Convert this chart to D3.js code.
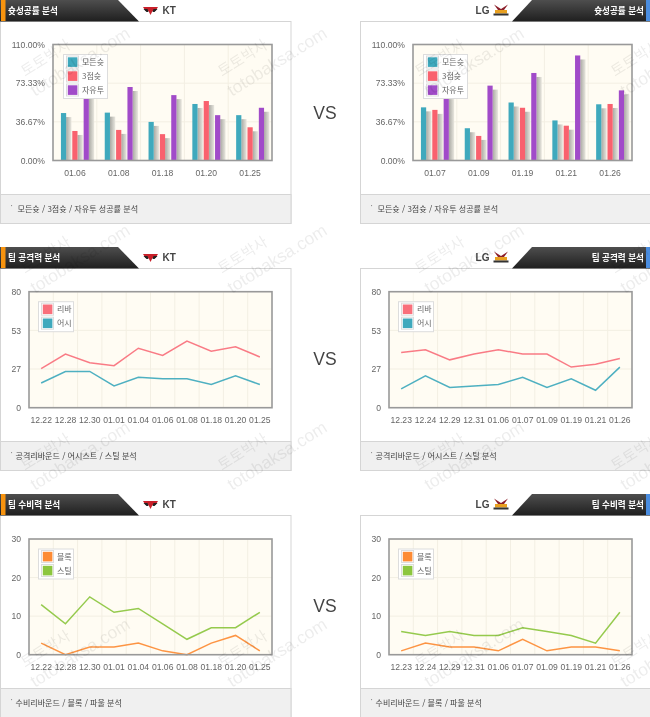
<!DOCTYPE html>
<html lang="ko"><head><meta charset="utf-8">
<script src="https://cdnjs.cloudflare.com/ajax/libs/d3/7.8.5/d3.min.js"></script>
<style>
html,body{margin:0;padding:0;background:#fff;overflow:hidden}
svg{display:block;filter:blur(.4px)}
text{font-family:"Noto Sans CJK KR","Liberation Sans",sans-serif}
.num text,.num{font-family:"Liberation Sans",Arial,sans-serif}
</style></head><body>
<svg id="c" width="650" height="717"></svg>
<script>
// ---- data ----
const shotLabels = ["모든슛","3점슛","자유투"];
const shotTicks = [0,36.67,73.33,110];
const shotTickLabels = ["0.00%","36.67%","73.33%","110.00%"];
const ktShotDates = ["01.06","01.08","01.18","01.20","01.25"];
const ktFieldGoal = [45,45.4,36.6,53.6,43];
const ktThree = [28,29,25,56.4,31.5];
const ktFree = [64,69.7,62,43,50];
const lgShotDates = ["01.07","01.09","01.19","01.21","01.26"];
const lgFieldGoal = [50.4,30.6,55,38,53.3];
const lgThree = [48,23.3,50,33,53.6];
const lgFree = [62,71,83,99.6,66.5];

const attackTicks = [0,26.67,53.33,80];
const attackTickLabels = ["0","27","53","80"];
const defenseTicks = [0,10,20,30];
const defenseTickLabels = ["0","10","20","30"];
const ktDates = ["12.22","12.28","12.30","01.01","01.04","01.06","01.08","01.18","01.20","01.25"];
const lgDates = ["12.23","12.24","12.29","12.31","01.06","01.07","01.09","01.19","01.21","01.26"];
const ktRebounds = [27,37,31,29,41,36,46,39,42,35];
const ktAssists = [17,25,25,15,21,20,20,16,22,16];
const lgRebounds = [38,40,33,37,40,37,37,28,30,34];
const lgAssists = [13,22,14,15,16,21,14,20,12,28];
const ktBlocks = [3,0,2,2,3,1,0,3,5,1];
const ktSteals = [13,8,15,11,12,8,4,7,7,11];
const lgBlocks = [1,3,2,2,1,4,1,2,2,1];
const lgSteals = [6,5,6,5,5,7,6,5,3,11];

const titles = ["슛성공률 분석","팀 공격력 분석","팀 수비력 분석"];
const footers = ["모든슛 / 3점슛 / 자유투 성공률 분석","공격리바운드 / 어시스트 / 스틸 분석","수비리바운드 / 블록 / 파울 분석"];

// ---- colours ----
const TEAL="#3fa9bd",RED="#f9616e",PURPLE="#a14bc9",ORANGE="#fd8b34",GREEN="#82c91e";

const svg=d3.select("#c");
const defs=svg.append("defs");
const hg=defs.append("linearGradient").attr("id","hdr").attr("x1",0).attr("y1",0).attr("x2",0).attr("y2",1);
hg.append("stop").attr("offset",0).attr("stop-color","#4e4e4e");
hg.append("stop").attr("offset",1).attr("stop-color","#1f1f1f");
const sg=defs.append("linearGradient").attr("id","shadow").attr("x1",0).attr("y1",0).attr("x2",1).attr("y2",0);
sg.append("stop").attr("offset",0).attr("stop-color","#a9a9a3");
sg.append("stop").attr("offset",1).attr("stop-color","#e9e7df");

function panelFrame(side,top,bottom,footTop,titleText,footText){
  const left=side==="L";
  const x0=left?0.5:360.5, x1=left?291:650.5;
  const g=svg.append("g");
  g.append("rect").attr("x",x0).attr("y",top+.5).attr("width",x1-x0).attr("height",bottom-top)
    .attr("fill","#fff").attr("stroke","#d5d5d5");
  g.append("rect").attr("x",x0).attr("y",footTop+.5).attr("width",x1-x0).attr("height",bottom-footTop)
    .attr("fill","#f0f0f0").attr("stroke","#d5d5d5");
  g.append("text").attr("x",x0+10).attr("y",footTop+15).attr("font-size",8).attr("fill","#777").text("·");
  g.append("text").attr("x",x0+(titleText.startsWith("슛")?17:15)).attr("y",footTop+17.5).attr("font-size",8.05).attr("fill","#444").text(footText);
  const hTop=top-21;
  const pts=left?[[0,hTop],[118,hTop],[139,top+.5],[0,top+.5]]:[[532,hTop],[650,hTop],[650,top+.5],[512,top+.5]];
  g.append("polygon").attr("points",pts.join(" ")).attr("fill","url(#hdr)");
  g.append("rect").attr("x",left?1:646).attr("y",hTop).attr("width",left?4.5:4).attr("height",21)
    .attr("fill",left?"#f7930e":"#4a8de0");
  g.append("text").attr("x",left?8:644).attr("y",hTop+14).attr("text-anchor",left?"start":"end")
    .attr("font-size",8.6).attr("font-weight",700).attr("fill","#fff").text(titleText);
  const cy=hTop+10;
  if(left){
    const m=g.append("g").attr("transform",`translate(150.5,${cy})`);
    m.append("path").attr("d","M-7.5,-3 L7.5,-3 L5,1 L2,1 L0,5 L-2,1 L-5,1Z").attr("fill","#c8202a");
    m.append("path").attr("d","M-7,-1 L-3,-1 L-2,2 L-4,2Z M7,-1 L3,-1 L2,2 L4,2Z").attr("fill","#222");
    g.append("text").attr("class","num").attr("x",162.5).attr("y",cy+3.8).attr("font-size",10).attr("font-weight",700).attr("fill","#444").style("font-family",'"Liberation Sans",Arial,sans-serif').text("KT");
  }else{
    const m=g.append("g").attr("transform",`translate(501,${cy})`);
    m.append("path").attr("d","M-7,-5.5 L0,-1 L7,-5.5 L3,0 L-3,0Z").attr("fill","#8c1f2a");
    m.append("rect").attr("x",-6).attr("y",0).attr("width",12).attr("height",3.5).attr("fill","#e8a020");
    m.append("rect").attr("x",-7.5).attr("y",3.5).attr("width",15).attr("height",2).attr("fill","#333");
    g.append("text").attr("class","num").attr("x",489.5).attr("y",cy+3.8).attr("text-anchor","end").attr("font-size",10).attr("font-weight",700).attr("fill","#444").style("font-family",'"Liberation Sans",Arial,sans-serif').text("LG");
  }
}

function plotBase(b,domainMax,ticks,tickLabels,dates){
  const x=d3.scaleBand().domain(dates).range([b.x0,b.x1]);
  const y=d3.scaleLinear().domain([0,domainMax]).range([b.y1,b.y0]);
  const g=svg.append("g");
  g.append("rect").attr("x",b.x0).attr("y",b.y0).attr("width",b.x1-b.x0).attr("height",b.y1-b.y0).attr("fill","#fffcf3");
  g.append("g").selectAll("line").data(ticks).join("line")
    .attr("x1",b.x0).attr("x2",b.x1).attr("y1",d=>y(d)).attr("y2",d=>y(d)).attr("stroke","#f3efe3");
  g.append("g").selectAll("line").data(dates.slice(1)).join("line")
    .attr("x1",d=>x(d)).attr("x2",d=>x(d)).attr("y1",b.y0).attr("y2",b.y1).attr("stroke","#f3efe3");
  const ay=d3.axisLeft(y).tickValues(ticks).tickSize(0).tickPadding(8)
    .tickFormat((d)=>tickLabels[ticks.indexOf(d)]);
  const ga=g.append("g").attr("class","num").attr("transform",`translate(${b.x0},0)`).call(ay);
  const ax=d3.axisBottom(x).tickSize(0).tickPadding(9);
  const gb=g.append("g").attr("class","num").attr("transform",`translate(0,${b.y1})`).call(ax);
  [ga,gb].forEach(s=>{s.select(".domain").remove();
    s.selectAll("text").attr("fill","#666")
      .style("font-family",'"Liberation Sans",Arial,sans-serif').style("font-size","8.6px");});
  return {x,y};
}
function plotBorder(b){
  svg.append("rect").attr("x",b.x0).attr("y",b.y0).attr("width",b.x1-b.x0).attr("height",b.y1-b.y0)
    .attr("fill","none").attr("stroke","#999").attr("stroke-width",1.6);
}
function legend(b,names,colors,w,h){
  const lx=b.x0+(w>40?10:9), ly=b.y0+9.5;
  const g=svg.append("g").attr("transform",`translate(${lx},${ly})`);
  g.append("rect").attr("x",.5).attr("y",.5).attr("width",w).attr("height",h).attr("fill","#fff").attr("stroke","#ddd");
  const row=d3.scaleBand().domain(names).range([1,h-1]);
  const it=g.selectAll("g").data(names).join("g").attr("transform",d=>`translate(0,${row(d)+row.bandwidth()/2})`);
  it.append("rect").attr("x",3.5).attr("y",-6).attr("width",12).attr("height",12).attr("fill","#fff").attr("stroke","#ddd");
  it.append("rect").attr("x",4.8).attr("y",-4.7).attr("width",9.6).attr("height",9.6).attr("fill",(d,i)=>colors[i]);
  it.append("text").attr("x",19).attr("y",3).attr("font-size",8).attr("fill","#666").text(d=>d);
}
function barChart(b,dates,series,colors,names){
  const {x,y}=plotBase(b,110,shotTicks,shotTickLabels,dates);
  const inner=d3.scaleBand().domain(names).range([0,x.bandwidth()]).paddingInner(.54).paddingOuter(.7);
  const gs=svg.append("g").selectAll("g").data(series).join("g");
  gs.each(function(s,si){
    const sel=d3.select(this), rows=s.map((v,i)=>({v,d:dates[i]}));
    sel.selectAll("rect.s").data(rows).join("rect").attr("class","s")
      .attr("x",d=>x(d.d)+inner(names[si])+inner.bandwidth())
      .attr("y",d=>y(d.v)+4).attr("width",5.3).attr("height",d=>b.y1-y(d.v)-4).attr("fill","url(#shadow)");
    sel.selectAll("rect.b").data(rows).join("rect").attr("class","b")
      .attr("x",d=>x(d.d)+inner(names[si])).attr("y",d=>y(d.v))
      .attr("width",inner.bandwidth()).attr("height",d=>b.y1-y(d.v)).attr("fill",colors[si]);
  });
  plotBorder(b);
  legend(b,names,colors,44,44);
}
function lineChart(b,dates,ticks,labels,max,series,colors,names){
  const {x,y}=plotBase(b,max,ticks,labels,dates);
  const ln=d3.line().x((d,i)=>x(dates[i])+x.bandwidth()/2).y(d=>y(d));
  svg.append("g").selectAll("path").data(series).join("path")
    .attr("d",ln).attr("fill","none").attr("stroke",(d,i)=>colors[i]).attr("stroke-width",1.5).attr("opacity",.92);
  plotBorder(b);
  legend(b,names,colors,35,30);
}

// ---- frames ----
[[21,223,194],[268,470,441],[515,730,688]].forEach((r,i)=>{
  panelFrame("L",r[0],r[1],r[2],titles[i],footers[i]);
  panelFrame("R",r[0],r[1],r[2],titles[i],footers[i]);
});
[112,358,605].forEach(cy=>svg.append("text").attr("x",325).attr("y",cy+6.5)
  .attr("text-anchor","middle").attr("font-size",17.5).attr("fill","#444").style("font-family",'"Liberation Sans",Arial,sans-serif').text("VS"));

// ---- charts ----
barChart({x0:53,x1:272,y0:44.5,y1:160.5},ktShotDates,[ktFieldGoal,ktThree,ktFree],[TEAL,RED,PURPLE],shotLabels);
barChart({x0:413,x1:632,y0:44.5,y1:160.5},lgShotDates,[lgFieldGoal,lgThree,lgFree],[TEAL,RED,PURPLE],shotLabels);
lineChart({x0:29,x1:272,y0:291.7,y1:407.7},ktDates,attackTicks,attackTickLabels,80,[ktRebounds,ktAssists],["#f9707c",TEAL],["리바","어시"]);
lineChart({x0:389,x1:632,y0:291.7,y1:407.7},lgDates,attackTicks,attackTickLabels,80,[lgRebounds,lgAssists],["#f9707c",TEAL],["리바","어시"]);
lineChart({x0:29,x1:272,y0:539,y1:654.7},ktDates,defenseTicks,defenseTickLabels,30,[ktBlocks,ktSteals],[ORANGE,"#8cc63f"],["블록","스틸"]);
lineChart({x0:389,x1:632,y0:539,y1:654.7},lgDates,defenseTicks,defenseTickLabels,30,[lgBlocks,lgSteals],[ORANGE,"#8cc63f"],["블록","스틸"]);

// ---- watermark ----
const wmX=[25,222,419,615], wmY=[77,274,471,668];
const wm=svg.append("g").attr("pointer-events","none");
wmY.forEach(yy=>wmX.forEach(xx=>{
  const t=wm.append("g").attr("transform",`translate(${xx},${yy}) rotate(-32)`).attr("fill","#000").attr("fill-opacity",.075);
  t.append("text").attr("x",0).attr("y",0).attr("font-size",15).text("토토박사");
  t.append("text").attr("x",-2).attr("y",22).attr("font-size",17.5).style("font-family",'"Liberation Sans",Arial,sans-serif').text("totobaksa.com");
}));
</script></body></html>
